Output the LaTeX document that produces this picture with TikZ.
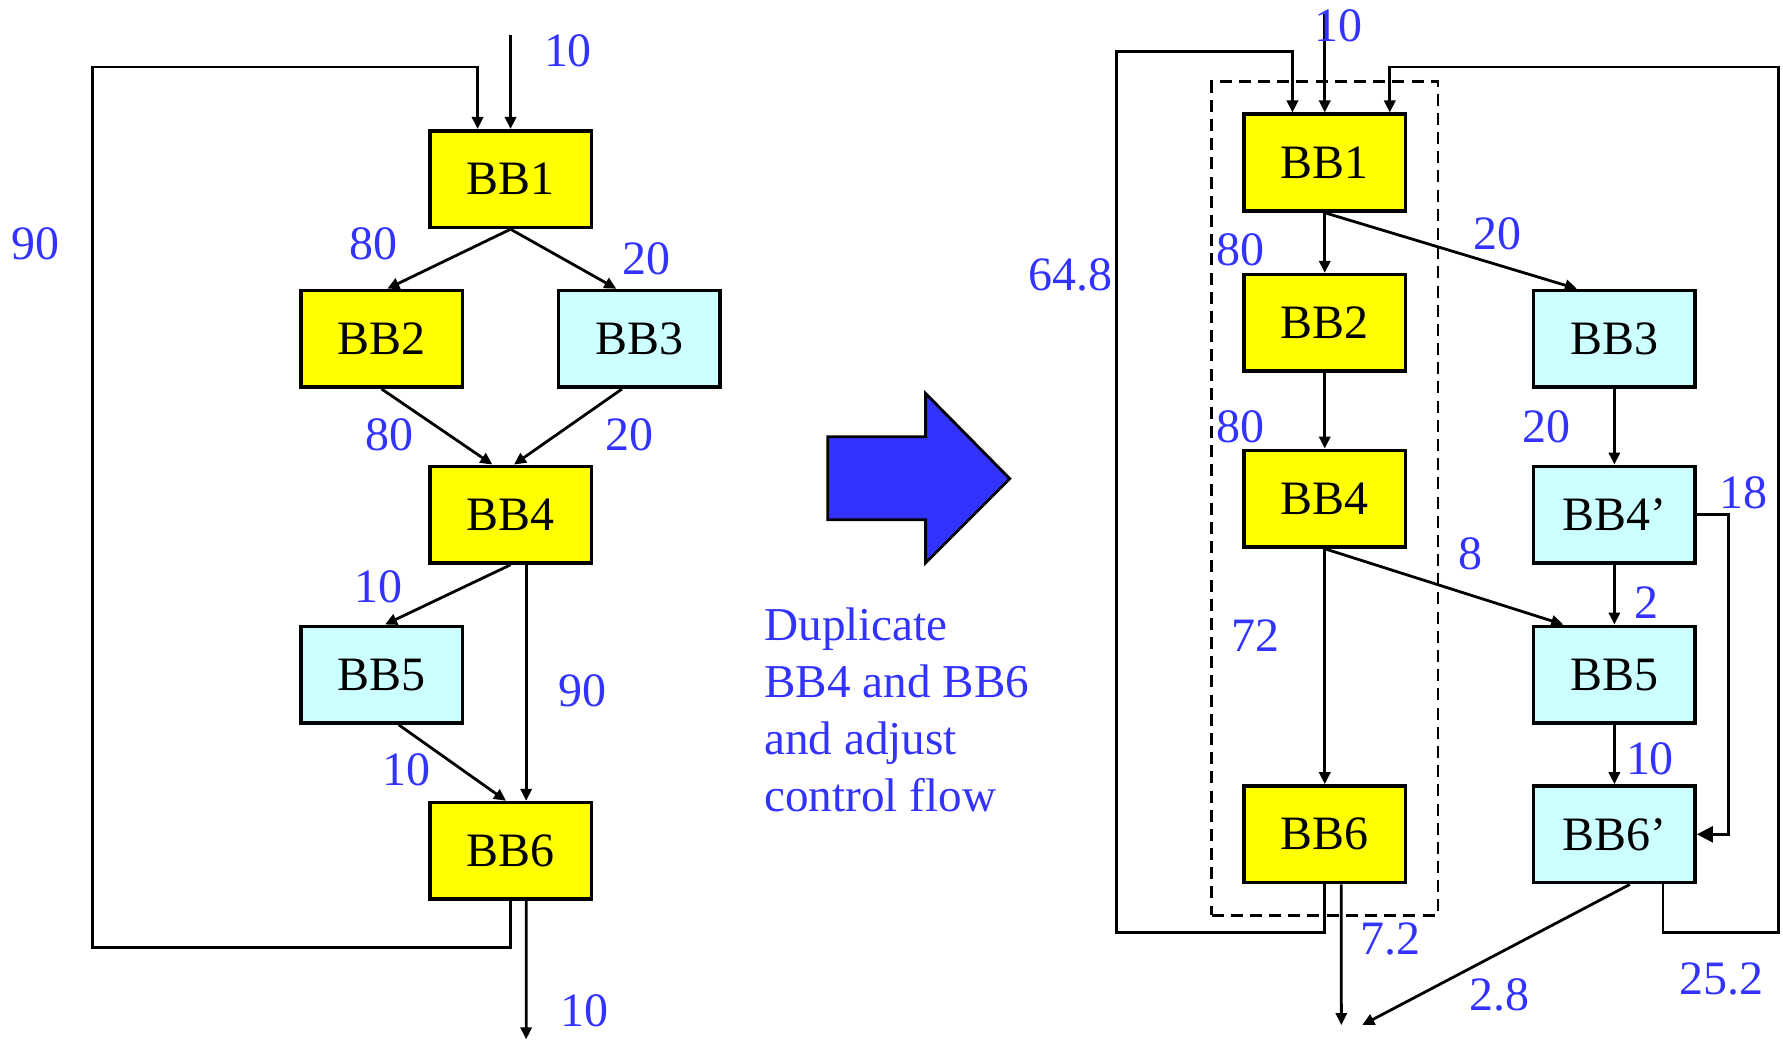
\documentclass[tikz,border=0pt]{standalone}
\usepackage{fontspec}
\setmainfont{Liberation Serif}
\usepackage{xcolor}
\usepackage{tikz}
\usetikzlibrary{positioning,arrows.meta,fit}
\definecolor{bbyellow}{RGB}{255,255,0}
\definecolor{bbcyan}{RGB}{204,255,255}
\definecolor{cntblue}{RGB}{51,51,255}

\begin{document}
\begin{tikzpicture}[font=\fontsize{12}{14}\selectfont, >={Triangle[length=3pt,width=2.8pt]}, line width=0.7pt,
  bb/.style={draw, line width=0.9pt, minimum width=14.2mm, minimum height=8.5mm, inner sep=0pt},
  hot/.style={bb, fill=bbyellow},
  cold/.style={bb, fill=bbcyan},
  cnt/.style={text=cntblue, inner sep=0pt},
  big/.style={-{Triangle[length=4pt,width=4pt]}}]
\useasboundingbox (0,0) rectangle (15.68,9.17);
% before
\node[hot]  (b1) at (4.49,7.595) {BB1};
\node[hot]  (b2) at (3.356,6.19) {BB2};
\node[cold] (b3) at (5.62,6.19)  {BB3};
\node[hot]  (b4) at (4.49,4.644) {BB4};
\node[cold] (b5) at (3.356,3.237){BB5};
\node[hot]  (b6) at (4.49,1.687) {BB6};
\coordinate (inL)  at (4.49,8.86);
\coordinate (outL) at (4.627,0.03);
\draw[->] (inL) -- (b1.north);
\draw[->] (b6.south) -- ++(0,-0.41) -| (0.81,8.58) -| ([xshift=-2.9mm]b1.north);
\draw[->] (b1.south) -- ([xshift=0.5mm]b2.north);
\draw[->] (b1.south) -- ([xshift=-2mm]b3.north);
\draw[->] (b2.south) -- ([xshift=-1.6mm]b4.north);
\draw[->] ([xshift=-1.5mm]b3.south) -- ([xshift=0.3mm]b4.north);
\draw[->] (b4.south) -- ([xshift=0.3mm]b5.north);
\draw[->] ([xshift=1.37mm]b4.south) -- ([xshift=1.37mm]b6.north);
\draw[->] ([xshift=1.5mm]b5.south) -- ([xshift=-0.4mm]b6.north);
\draw[->] ([xshift=1.37mm]b6.south) -- (outL);
\node[cnt] (fin)   at (4.995,8.72) {10};
\node[cnt] (floop) at (0.315,7.03) {90};
\node[cnt] (f12)   at (3.286,7.03) {80};
\node[cnt] (f13)   at (5.685,6.89) {20};
\node[cnt] (f24)   at (3.427,5.345){80};
\node[cnt] (f34)   at (5.539,5.345){20};
\node[cnt] (f45)   at (3.328,4.01) {10};
\node[cnt] (f46)   at (5.123,3.093){90};
\node[cnt] (f56)   at (3.577,2.398){10};
\node[cnt] (fout)  at (5.14,0.282) {10};
% transformation
\draw[fill=cntblue] (7.28,5.33) -- (8.14,5.33) -- (8.14,5.71) -- (8.88,4.96) -- (8.14,4.22) -- (8.14,4.60) -- (7.28,4.60) -- cycle;
\node[cnt, anchor=north west, align=left, font=\fontsize{11.8}{14.3}\selectfont] (note) at (6.71,3.84) {Duplicate\\BB4 and BB6\\and adjust\\control flow};
% after
\node[hot]  (b1r)  at (11.65,7.74)   {BB1};
\node[hot]  (b2r)  at (11.65,6.33)   {BB2};
\node[hot]  (b4r)  at (11.65,4.785)  {BB4};
\node[hot]  (b6r)  at (11.65,1.833)  {BB6};
\node[cold] (b3r)  at (14.197,6.19)  {BB3};
\node[cold] (b4pr) at (14.197,4.644) {BB4'};
\node[cold] (b5r)  at (14.197,3.237) {BB5};
\node[cold] (b6pr) at (14.197,1.833) {BB6'};
\node[draw, dashed, dash pattern=on 3pt off 1.8pt, inner sep=2.7mm, fit=(b1r)(b6r)] (dup) {};
\coordinate (inR)   at (11.65,9.05);
\coordinate (outR)  at (11.796,0.156);
\coordinate (outRp) at (11.98,0.156);
\draw[->] (inR) -- (b1r.north);
\draw[->] (b6r.south) -- ++(0,-0.42) -| (9.82,8.72) -| ([xshift=-2.84mm]b1r.north);
\draw[->] ([xshift=4.28mm]b6pr.south) -- ++(0,-0.42) -| (15.64,8.58) -| ([xshift=5.72mm]b1r.north);
\draw[->] (b1r) -- (b2r);
\draw[->] (b2r) -- (b4r);
\draw[->] (b4r) -- (b6r);
\draw[->] (b1r.south) -- ([xshift=-3.3mm]b3r.north);
\draw[->] (b3r) -- (b4pr);
\draw[->] (b4pr) -- (b5r);
\draw[->] (b5r) -- (b6pr);
\draw[->] (b4r.south) -- ([xshift=-4.5mm]b5r.north);
\draw[big] (b4pr.east) -- ++(0.28,0) |- (b6pr.east);
\draw[->] ([xshift=1.45mm]b6r.south) -- (outR);
\draw[->] ([xshift=1.36mm]b6pr.south) -- (outRp);
\node[cnt] (gin)    at (11.77,8.94)  {10};
\node[cnt] (gloop)  at (9.415,6.75)  {64.8};
\node[cnt] (g12)    at (10.91,6.97)  {80};
\node[cnt] (g13)    at (13.17,7.11)  {20};
\node[cnt] (g24)    at (10.91,5.42)  {80};
\node[cnt] (g34)    at (13.60,5.42)  {20};
\node[cnt] (g4p6p)  at (15.33,4.84)  {18};
\node[cnt] (g45)    at (12.93,4.30)  {8};
\node[cnt] (g4p5)   at (14.48,3.87)  {2};
\node[cnt] (g46)    at (11.04,3.58)  {72};
\node[cnt] (g56)    at (14.51,2.50)  {10};
\node[cnt] (gout)   at (12.23,0.915) {7.2};
\node[cnt] (goutp)  at (13.19,0.42)  {2.8};
\node[cnt] (gloopp) at (15.14,0.563) {25.2};
\end{tikzpicture}
\end{document}
